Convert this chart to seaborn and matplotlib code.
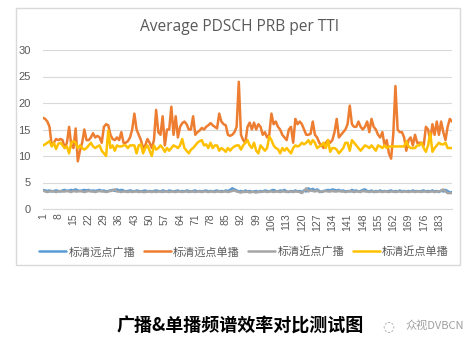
import matplotlib
matplotlib.use("Agg")
import matplotlib.pyplot as plt
import seaborn as sns
import pandas as pd
import numpy as np
from matplotlib.patches import Rectangle
from matplotlib.lines import Line2D

title = "Average PDSCH PRB per TTI"
series_names = ["标清远点广播", "标清远点单播", "标清近点广播", "标清近点单播"]
colors = ["#5B9BD5", "#ED7D31", "#A5A5A5", "#FFC000"]
caption = "广播&单播频谱效率对比测试图"
watermark = "众视DVBCN"

far_bcast = [
    3.6,3.5,3.4,3.5,3.3,3.4,3.5,3.4,3.3,3.5,3.6,3.4,3.5,3.6,3.5,3.7,3.5,3.4,3.5,3.6,
    3.5,3.6,3.4,3.5,3.4,3.5,3.6,3.4,3.5,3.3,3.4,3.5,3.6,3.4,3.7,3.5,3.6,3.5,3.3,3.4,
    3.5,3.4,3.3,3.5,3.4,3.3,3.4,3.5,3.3,3.4,3.3,3.4,3.5,3.4,3.3,3.5,3.4,3.3,3.5,3.4,
    3.3,3.4,3.5,3.3,3.4,3.3,3.5,3.4,3.3,3.4,3.5,3.3,3.4,3.3,3.4,3.5,3.3,3.4,3.3,3.4,
    3.5,3.3,3.4,3.3,3.5,3.4,3.6,3.9,3.7,3.5,3.3,3.4,3.2,3.5,3.3,3.4,3.2,3.3,3.4,3.2,
    3.4,3.3,3.5,3.4,3.3,3.5,3.6,3.4,3.3,3.5,3.4,3.6,3.3,3.2,3.4,3.3,3.5,3.3,3.4,3.2,
    3.5,3.3,3.9,3.6,3.8,3.5,3.7,3.4,3.2,3.4,3.5,3.6,3.5,3.7,3.6,3.5,3.6,3.4,3.5,3.3,
    3.4,3.3,3.6,3.4,3.5,3.3,3.4,3.6,3.7,3.4,3.3,3.5,3.2,3.4,3.3,3.5,3.3,3.4,3.3,3.4,
    3.5,3.3,3.4,3.3,3.5,3.3,3.4,3.3,3.4,3.3,3.5,3.3,3.4,3.3,3.4,3.5,3.3,3.4,3.3,3.5,
    3.3,3.4,3.2,3.5,3.3,3.6,3.4,3.1,3.2,
]

far_ucast = [
    17.2,17.0,16.5,15.5,12.0,12.5,13.2,13.0,13.2,13.0,11.5,12.5,15.5,12.0,11.5,15.2,9.0,11.0,12.5,15.0,
    13.0,13.0,13.5,14.3,13.5,13.8,13.5,12.5,15.5,16.0,15.8,14.0,13.2,13.0,13.5,13.0,14.5,12.5,12.5,12.8,
    13.5,15.0,18.0,15.0,14.0,13.0,11.5,12.0,13.2,12.5,11.5,13.0,18.7,14.5,14.0,17.5,12.0,15.0,15.0,19.3,
    14.0,17.5,13.5,15.5,16.2,16.5,16.0,15.0,15.0,17.5,14.0,14.5,14.8,15.3,15.0,15.5,15.8,16.2,15.8,15.5,
    15.2,18.0,16.5,16.0,15.8,14.0,13.8,14.0,14.5,15.5,24.0,14.0,13.0,12.5,15.5,16.3,15.0,16.3,15.0,16.0,
    15.5,14.0,14.5,13.5,14.0,18.0,16.0,16.5,15.5,15.0,14.0,13.5,13.0,15.0,15.5,12.5,17.0,16.0,16.5,16.0,
    15.0,14.0,14.0,14.2,16.5,14.0,13.5,12.5,12.0,11.5,12.5,13.0,12.5,13.0,14.5,17.0,13.5,14.0,14.5,15.0,
    16.0,19.5,16.0,15.5,15.5,16.5,15.5,15.0,15.5,16.5,14.5,17.0,15.5,15.0,14.0,13.5,14.5,12.0,13.0,10.5,
    9.5,14.0,23.2,15.0,14.5,14.5,13.5,11.0,13.0,13.5,12.0,14.0,12.5,12.5,12.5,12.0,15.5,15.0,13.0,16.0,
    14.0,16.5,14.0,16.5,14.5,13.0,15.5,17.0,16.5,
]

near_bcast = [
    3.5,3.3,3.2,3.3,3.4,3.3,3.2,3.3,3.4,3.3,3.3,3.4,3.3,3.2,3.4,3.3,3.3,3.4,3.3,3.2,
    3.3,3.4,3.3,3.3,3.2,3.3,3.4,3.3,3.3,3.2,3.3,3.4,3.5,3.7,3.3,3.3,3.2,3.3,3.3,3.2,
    3.3,3.2,3.3,3.3,3.2,3.3,3.2,3.2,3.3,3.3,3.2,3.3,3.2,3.3,3.3,3.2,3.3,3.3,3.2,3.3,
    3.3,3.2,3.3,3.3,3.2,3.3,3.3,3.2,3.3,3.3,3.2,3.3,3.3,3.2,3.3,3.3,3.2,3.3,3.3,3.2,
    3.3,3.3,3.2,3.3,3.3,3.2,3.3,3.4,3.5,3.3,3.2,3.1,3.3,3.2,3.3,3.1,3.3,3.2,3.1,3.3,
    3.2,3.3,3.3,3.2,3.3,3.3,3.2,3.3,3.3,3.2,3.3,3.3,3.2,3.3,3.3,3.2,3.3,3.3,3.2,3.0,
    3.4,3.9,3.3,3.5,3.4,3.3,3.5,3.2,3.3,3.3,3.4,3.3,3.3,3.4,3.3,3.3,3.4,3.3,3.3,3.2,
    3.3,3.4,3.3,3.2,3.3,3.3,3.2,3.4,3.3,3.3,3.2,3.3,3.3,3.2,3.3,3.3,3.2,3.3,3.3,3.2,
    3.3,3.3,3.2,3.3,3.3,3.2,3.3,3.3,3.2,3.3,3.3,3.2,3.3,3.3,3.2,3.3,3.3,3.2,3.3,3.3,
    3.2,3.3,3.3,3.4,3.7,3.3,3.0,3.0,3.0,
]

near_ucast = [
    12.0,12.2,12.5,12.8,11.8,12.5,11.3,12.3,12.5,12.0,11.5,11.8,10.5,12.5,12.8,12.5,11.5,12.0,11.5,11.2,
    11.5,12.0,12.5,11.8,11.5,11.8,12.0,11.0,10.5,10.0,14.8,11.5,12.0,11.0,12.0,11.8,11.8,12.0,12.0,11.5,
    12.0,12.0,12.0,10.5,12.0,12.2,10.5,11.5,12.0,11.0,10.0,12.0,11.2,11.5,12.0,11.5,10.8,11.5,11.0,11.5,
    12.0,11.8,11.5,12.0,13.2,11.5,11.0,10.5,11.2,11.5,12.0,12.5,12.8,13.0,12.0,12.2,11.5,12.5,11.5,12.0,
    12.0,11.0,11.5,11.2,10.8,11.5,11.0,11.5,11.8,12.0,12.0,11.2,12.0,12.5,13.0,12.0,11.5,12.5,11.0,10.5,
    12.0,11.5,11.0,11.5,13.7,13.0,12.0,11.5,11.3,10.5,11.5,11.0,11.5,11.0,10.5,11.5,12.0,11.8,12.0,12.5,
    12.2,12.5,13.0,12.2,13.0,12.5,11.5,11.8,12.0,12.5,11.5,13.0,10.8,11.5,11.5,11.2,10.5,11.0,11.5,12.5,
    12.5,11.0,13.0,12.5,12.0,11.5,11.0,11.5,12.0,11.8,11.5,12.0,11.5,11.0,12.0,11.8,11.5,12.0,11.5,11.8,
    11.8,11.8,11.8,11.8,11.8,11.8,11.8,12.8,11.8,11.5,11.5,11.5,12.0,12.0,12.5,11.5,10.8,12.0,14.3,10.8,
    11.5,12.0,12.5,12.2,12.2,12.5,11.5,11.5,11.5,
]

n = len(far_ucast)
categories = list(range(1, n + 1))
tick_labels = [str(c) for c in categories[::7]]

rows = []
for name, vals in zip(series_names, [far_bcast, far_ucast, near_bcast, near_ucast]):
    for c, v in zip(categories, vals):
        rows.append({"cat": c, "val": v, "series": name})
df = pd.DataFrame(rows)

sns.set_theme(style="white")
plt.rcParams["font.family"] = ["Noto Sans CJK SC", "DejaVu Sans"]

fig = plt.figure(figsize=(4.77, 3.53), dpi=100)
fig.patch.set_facecolor("white")
fig.add_artist(Rectangle((16 / 477, 1 - 265 / 353), (460 - 16) / 477, (265 - 8) / 353,
                         transform=fig.transFigure, fill=False, edgecolor="#D9D9D9", lw=1))

ax = fig.add_axes([43 / 477, 1 - 209 / 353, (452 - 43) / 477, (209 - 50) / 353])
sns.lineplot(data=df, x="cat", y="val", hue="series", hue_order=series_names,
             palette=colors, linewidth=1.8, ax=ax, legend=False)

ax.set_xlim(1, n)
ax.set_ylim(0, 30)
ax.set_yticks([0, 5, 10, 15, 20, 25, 30])
ax.set_xticks(categories[::7])
ax.set_xticklabels(tick_labels, rotation=90, fontsize=7.5, color="#595959",
                   family="Liberation Sans")
ax.set_yticklabels(["0", "5", "10", "15", "20", "25", "30"], fontsize=8, color="#595959",
                   family="Liberation Sans")
ax.tick_params(axis="both", length=0, pad=3)
ax.tick_params(axis="y", pad=9)
ax.grid(axis="y", color="#D9D9D9", lw=0.8)
ax.grid(axis="x", visible=False)
for s in ["top", "right", "left"]:
    ax.spines[s].set_visible(False)
ax.spines["bottom"].set_color("#D9D9D9")
ax.spines["bottom"].set_linewidth(0.8)
ax.set_xlabel("")
ax.set_ylabel("")
ax.set_facecolor("none")

fig.text(240 / 477, 1 - 27 / 353, title, ha="center", va="center", fontsize=11.2,
         color="#595959", family="Open Sans")

handles = [Line2D([0], [0], color=c, lw=1.8) for c in colors]
fig.legend(handles, series_names, loc="center", bbox_to_anchor=(244 / 477, 1 - 252 / 353),
           ncol=4, frameon=False, fontsize=8.0, handlelength=2.4, handletextpad=0.2,
           columnspacing=0.8, labelcolor="#595959")

fig.text(240 / 477, 1 - 326 / 353, caption, ha="center", va="center", fontsize=13,
         fontweight="bold", color="black")
fig.text(405 / 477, 1 - 326 / 353, watermark, ha="left", va="center", fontsize=8,
         color="#A0A0A0")
fig.text(388 / 477, 1 - 326 / 353, "◌", ha="center", va="center", fontsize=10,
         color="#A0A0A0", family=["DejaVu Sans"])

fig.savefig("out.png", dpi=100, facecolor="white")
